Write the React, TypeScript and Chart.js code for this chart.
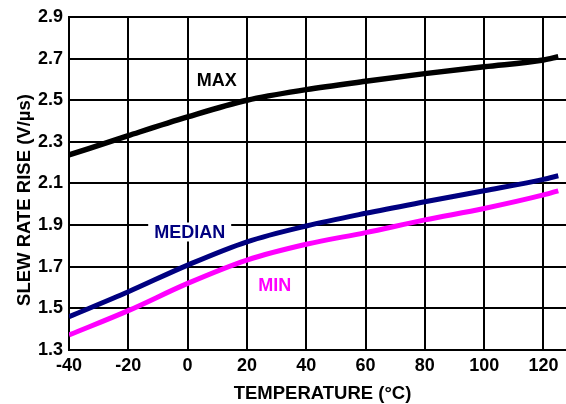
import React, { useEffect, useRef } from "react";
import { Chart, registerables } from "chart.js";

Chart.register(...registerables);

const temperatures = [-40, -20, 0, 20, 40, 60, 80, 100, 120, 125];
const maxValues = [2.237, 2.33, 2.42, 2.5, 2.551, 2.591, 2.628, 2.661, 2.693, 2.709];
const medianValues = [1.46, 1.58, 1.708, 1.82, 1.896, 1.957, 2.012, 2.065, 2.12, 2.137];
const minValues = [1.372, 1.489, 1.62, 1.732, 1.808, 1.864, 1.925, 1.98, 2.045, 2.065];

const xTicks = [-40, -20, 0, 20, 40, 60, 80, 100, 120];
const yTicks = [1.3, 1.5, 1.7, 1.9, 2.1, 2.3, 2.5, 2.7, 2.9];

const xTitle = "TEMPERATURE (°C)";
const yTitle = "SLEW RATE RISE (V/µs)";

const seriesLabels = [
  { text: "MAX", x: 9.8, y: 2.597, color: "#000000", box: false },
  { text: "MEDIAN", x: 0.7, y: 1.867, color: "#000080", box: true },
  { text: "MIN", x: 29.4, y: 1.612, color: "#FF00FF", box: false },
];

const FONT = '"Liberation Sans", Arial, sans-serif';

const labelPlugin = {
  id: "labelPlugin",
  afterDatasetsDraw(chart: any) {
    const { ctx, scales } = chart;
    const xs = scales.x;
    const ys = scales.y;
    ctx.save();
    ctx.font = `bold 18px ${FONT}`;
    ctx.textAlign = "center";
    ctx.textBaseline = "middle";
    for (const l of seriesLabels) {
      const px = xs.getPixelForValue(l.x);
      const py = ys.getPixelForValue(l.y);
      if (l.box) {
        const w = ctx.measureText(l.text).width;
        ctx.fillStyle = "#ffffff";
        ctx.fillRect(px - w / 2 - 6, py - 9.5, w + 12, 19);
      }
      ctx.fillStyle = l.color;
      ctx.fillText(l.text, px, py + 1);
    }
    ctx.restore();
  },
  afterDraw(chart: any) {
    const { ctx } = chart;
    ctx.save();
    ctx.font = `bold 18.5px ${FONT}`;
    ctx.fillStyle = "#000000";
    ctx.textAlign = "center";
    ctx.textBaseline = "middle";
    ctx.fillText(xTitle, 322.5, 393.5);
    ctx.translate(24.5, 200);
    ctx.rotate(-Math.PI / 2);
    ctx.fillText(yTitle, 0, 0);
    ctx.restore();
  },
};

export default function App() {
  const canvasRef = useRef<HTMLCanvasElement | null>(null);

  useEffect(() => {
    document.body.style.margin = "0";
    const canvas = canvasRef.current;
    if (!canvas) return;
    const mk = (label: string, data: number[], color: string, width: number) => ({
      label,
      data: temperatures.map((t, i) => ({ x: t, y: data[i] })),
      borderColor: color,
      backgroundColor: color,
      borderWidth: width,
      pointRadius: 0,
      borderCapStyle: "butt" as const,
      cubicInterpolationMode: "monotone" as const,
      fill: false,
    });
    const chart = new Chart(canvas, {
      type: "line",
      data: {
        datasets: [
          mk("MAX", maxValues, "#000000", 5.5),
          mk("MEDIAN", medianValues, "#000080", 5),
          mk("MIN", minValues, "#FF00FF", 5),
        ],
      },
      options: {
        animation: false,
        responsive: true,
        maintainAspectRatio: false,
        layout: { padding: { top: 17, right: 0, bottom: 0, left: 0 } },
        plugins: {
          legend: { display: false },
          tooltip: { enabled: false },
        },
        scales: {
          x: {
            type: "linear",
            min: -40,
            max: 127.6,
            afterBuildTicks: (s: any) => {
              s.ticks = xTicks.map((v) => ({ value: v }));
            },
            afterFit: (s: any) => {
              s.height = 54;
            },
            ticks: {
              color: "#000000",
              font: { family: FONT, size: 18, weight: "bold" },
              padding: 5,
              maxRotation: 0,
              autoSkip: false,
              callback: (v: any) => String(v),
            },
            grid: { color: "#000000", lineWidth: 2, drawTicks: false },
            border: { display: true, color: "#000000", width: 2 },
          },
          y: {
            type: "linear",
            min: 1.3,
            max: 2.9,
            afterBuildTicks: (s: any) => {
              s.ticks = yTicks.map((v) => ({ value: v }));
            },
            afterFit: (s: any) => {
              s.width = 69;
            },
            ticks: {
              color: "#000000",
              font: { family: FONT, size: 18, weight: "bold" },
              padding: 6,
              autoSkip: false,
              callback: (v: any) => Number(v).toFixed(1),
            },
            grid: { color: "#000000", lineWidth: 2, drawTicks: false },
            border: { display: true, color: "#000000", width: 2 },
          },
        },
      },
      plugins: [labelPlugin],
    });
    return () => chart.destroy();
  }, []);

  return (
    <div style={{ width: 566, height: 404, position: "relative", background: "#ffffff" }}>
      <canvas ref={canvasRef} />
    </div>
  );
}
